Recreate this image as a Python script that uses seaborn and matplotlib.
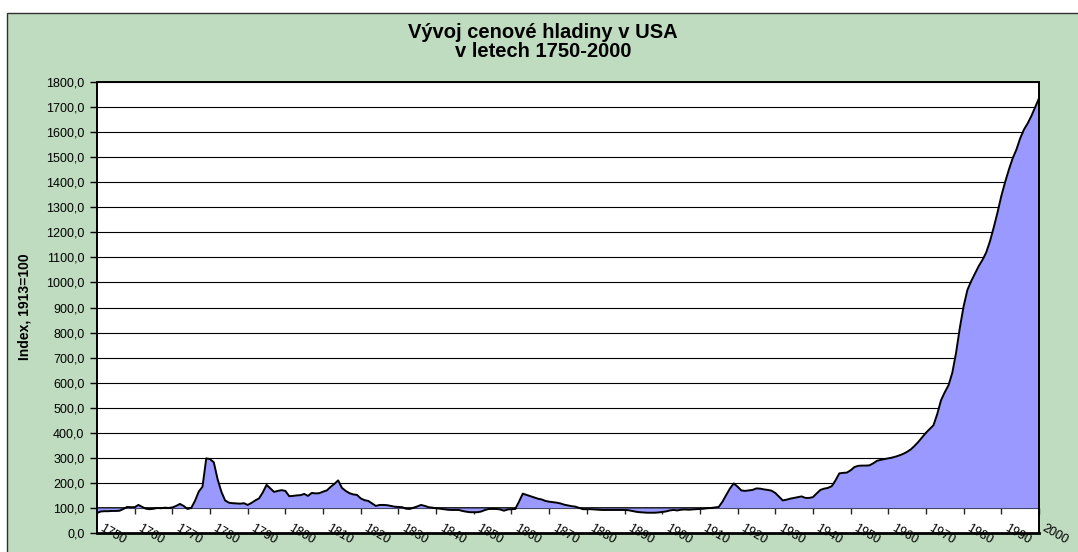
import numpy as np
import matplotlib
matplotlib.use('Agg')
import matplotlib.pyplot as plt
import matplotlib.ticker as mticker
from matplotlib.patches import Rectangle
from matplotlib.transforms import ScaledTranslation
import seaborn as sns

# Data: price index USA (1913=100), one value per year 1750-2000
first_year = 1750
last_year = 2000
price_index = [
    80, 86, 87, 87, 88, 88, 89, 96, 104, 103,            # 1750s
    103, 112, 104, 97, 95, 97, 100, 99, 101, 100,        # 1760s
    102, 108, 116, 108, 96, 100, 128, 165, 185, 298,     # 1770s
    295, 282, 215, 165, 130, 121, 119, 118, 117, 119,    # 1780s
    112, 120, 130, 138, 162, 192, 178, 164, 168, 171,    # 1790s
    168, 147, 148, 150, 151, 156, 148, 160, 158, 159,    # 1800s
    165, 170, 184, 196, 210, 180, 168, 159, 154, 152,    # 1810s
    138, 131, 128, 118, 108, 112, 112, 111, 108, 105,    # 1820s
    104, 103, 97, 96, 101, 106, 112, 108, 103, 101,      # 1830s
    99, 97, 95, 93, 92, 92, 92, 88, 85, 83,              # 1840s
    83, 83, 86, 92, 96, 96, 96, 94, 89, 94,              # 1850s
    95, 96, 125, 157, 152, 147, 142, 137, 134, 128,      # 1860s
    125, 123, 121, 118, 113, 110, 107, 105, 100, 95,     # 1870s
    95, 95, 94, 93, 92, 92, 92, 92, 92, 92,              # 1880s
    92, 91, 88, 85, 83, 82, 81, 81, 81, 82,              # 1890s
    84, 86, 90, 92, 90, 93, 94, 93, 94, 95,              # 1900s
    96, 97, 99, 100, 102, 104, 125, 152, 178, 198,       # 1910s
    185, 170, 168, 170, 172, 178, 177, 174, 172, 169,    # 1920s
    160, 145, 130, 133, 137, 140, 143, 146, 140, 140,    # 1930s
    143, 158, 172, 177, 180, 187, 210, 238, 240, 241,    # 1940s
    250, 263, 268, 269, 269, 270, 278, 288, 292, 295,    # 1950s
    298, 301, 305, 310, 316, 324, 334, 348, 364, 382,    # 1960s
    400, 415, 430, 475, 530, 562, 590, 640, 720, 820,    # 1970s
    905, 970, 1005, 1035, 1065, 1090, 1120, 1165, 1220, 1280,   # 1980s
    1345, 1400, 1450, 1495, 1530, 1575, 1610, 1635, 1665, 1700,  # 1990s
    1735,                                                 # 2000
]
years = np.arange(first_year, last_year + 1)
decade_ticks = np.arange(first_year, last_year + 1, 10)
y_ticks = np.arange(0, 1801, 100)
axis_cross = 100

title = 'Vývoj cenové hladiny v USA\nv letech 1750-2000'
y_label = 'Index, 1913=100'

sns.set_style('white')
plt.rcParams['font.family'] = ['Liberation Sans', 'DejaVu Sans']
plt.rcParams['text.color'] = 'black'

fig = plt.figure(figsize=(10.78, 5.52), dpi=100)
W, H = 1078, 552

# green chart area with border (behind the axes)
fig.patches.append(Rectangle((7 / W, -0.01), 1.02, (552 - 13) / H + 0.01,
                             transform=fig.transFigure, facecolor='#C0DCC0',
                             edgecolor='#303030', linewidth=1.0, zorder=-5))

ax = fig.add_axes([97 / W, 19 / H, 942 / W, 451 / H])
ax.set_facecolor('white')

ax.fill_between(years, price_index, axis_cross, color='#9999FF', linewidth=0, zorder=1)
sns.lineplot(x=years, y=price_index, color='black', linewidth=1.4, ax=ax, zorder=2)

ax.set_xlim(first_year, last_year)
ax.set_ylim(0, 1800)
ax.set_yticks(y_ticks)
ax.yaxis.set_major_formatter(mticker.FuncFormatter(lambda v, p: f'{v:.1f}'.replace('.', ',')))
ax.yaxis.grid(True, color='black', linewidth=0.8)
ax.set_axisbelow(True)
ax.tick_params(axis='y', left=True, direction='out', length=5, width=1,
               pad=4, labelsize=9, colors='black')

ax.set_xticks(decade_ticks)
ax.set_xticklabels([str(y) for y in decade_ticks])
ax.tick_params(axis='x', length=0, pad=-7.5, labelsize=9, colors='black')
offset = ScaledTranslation(7 / 100, 0, fig.dpi_scale_trans)
for lab in ax.get_xticklabels():
    lab.set_rotation(-30)
    lab.set_ha('left')
    lab.set_va('top')
    lab.set_rotation_mode('anchor')
    lab.set_transform(lab.get_transform() + offset)

for s in ax.spines.values():
    s.set_visible(True)
    s.set_color('black')
    s.set_linewidth(1.4)
ax.spines['bottom'].set_linewidth(2)
ax.set_xlabel('')
ax.set_ylabel('')

# category axis crossing the value axis at 100
sec = ax.secondary_xaxis(axis_cross / 1800)
sec.set_xticks(decade_ticks)
sec.tick_params(axis='x', direction='out', length=4, width=1,
                labelbottom=False, labeltop=False)
sec.spines['bottom'].set_linewidth(1.2)
sec.spines['bottom'].set_color('black')

fig.text(543 / W, 1 - 42 / H, title, ha='center', va='center',
         fontsize=14.5, fontweight='bold', linespacing=1.0, color='black')
fig.text(25 / W, 1 - 307 / H, y_label, rotation=90, ha='center', va='center',
         fontsize=10, fontweight='bold', color='black')

fig.savefig('out.png', dpi=100)
